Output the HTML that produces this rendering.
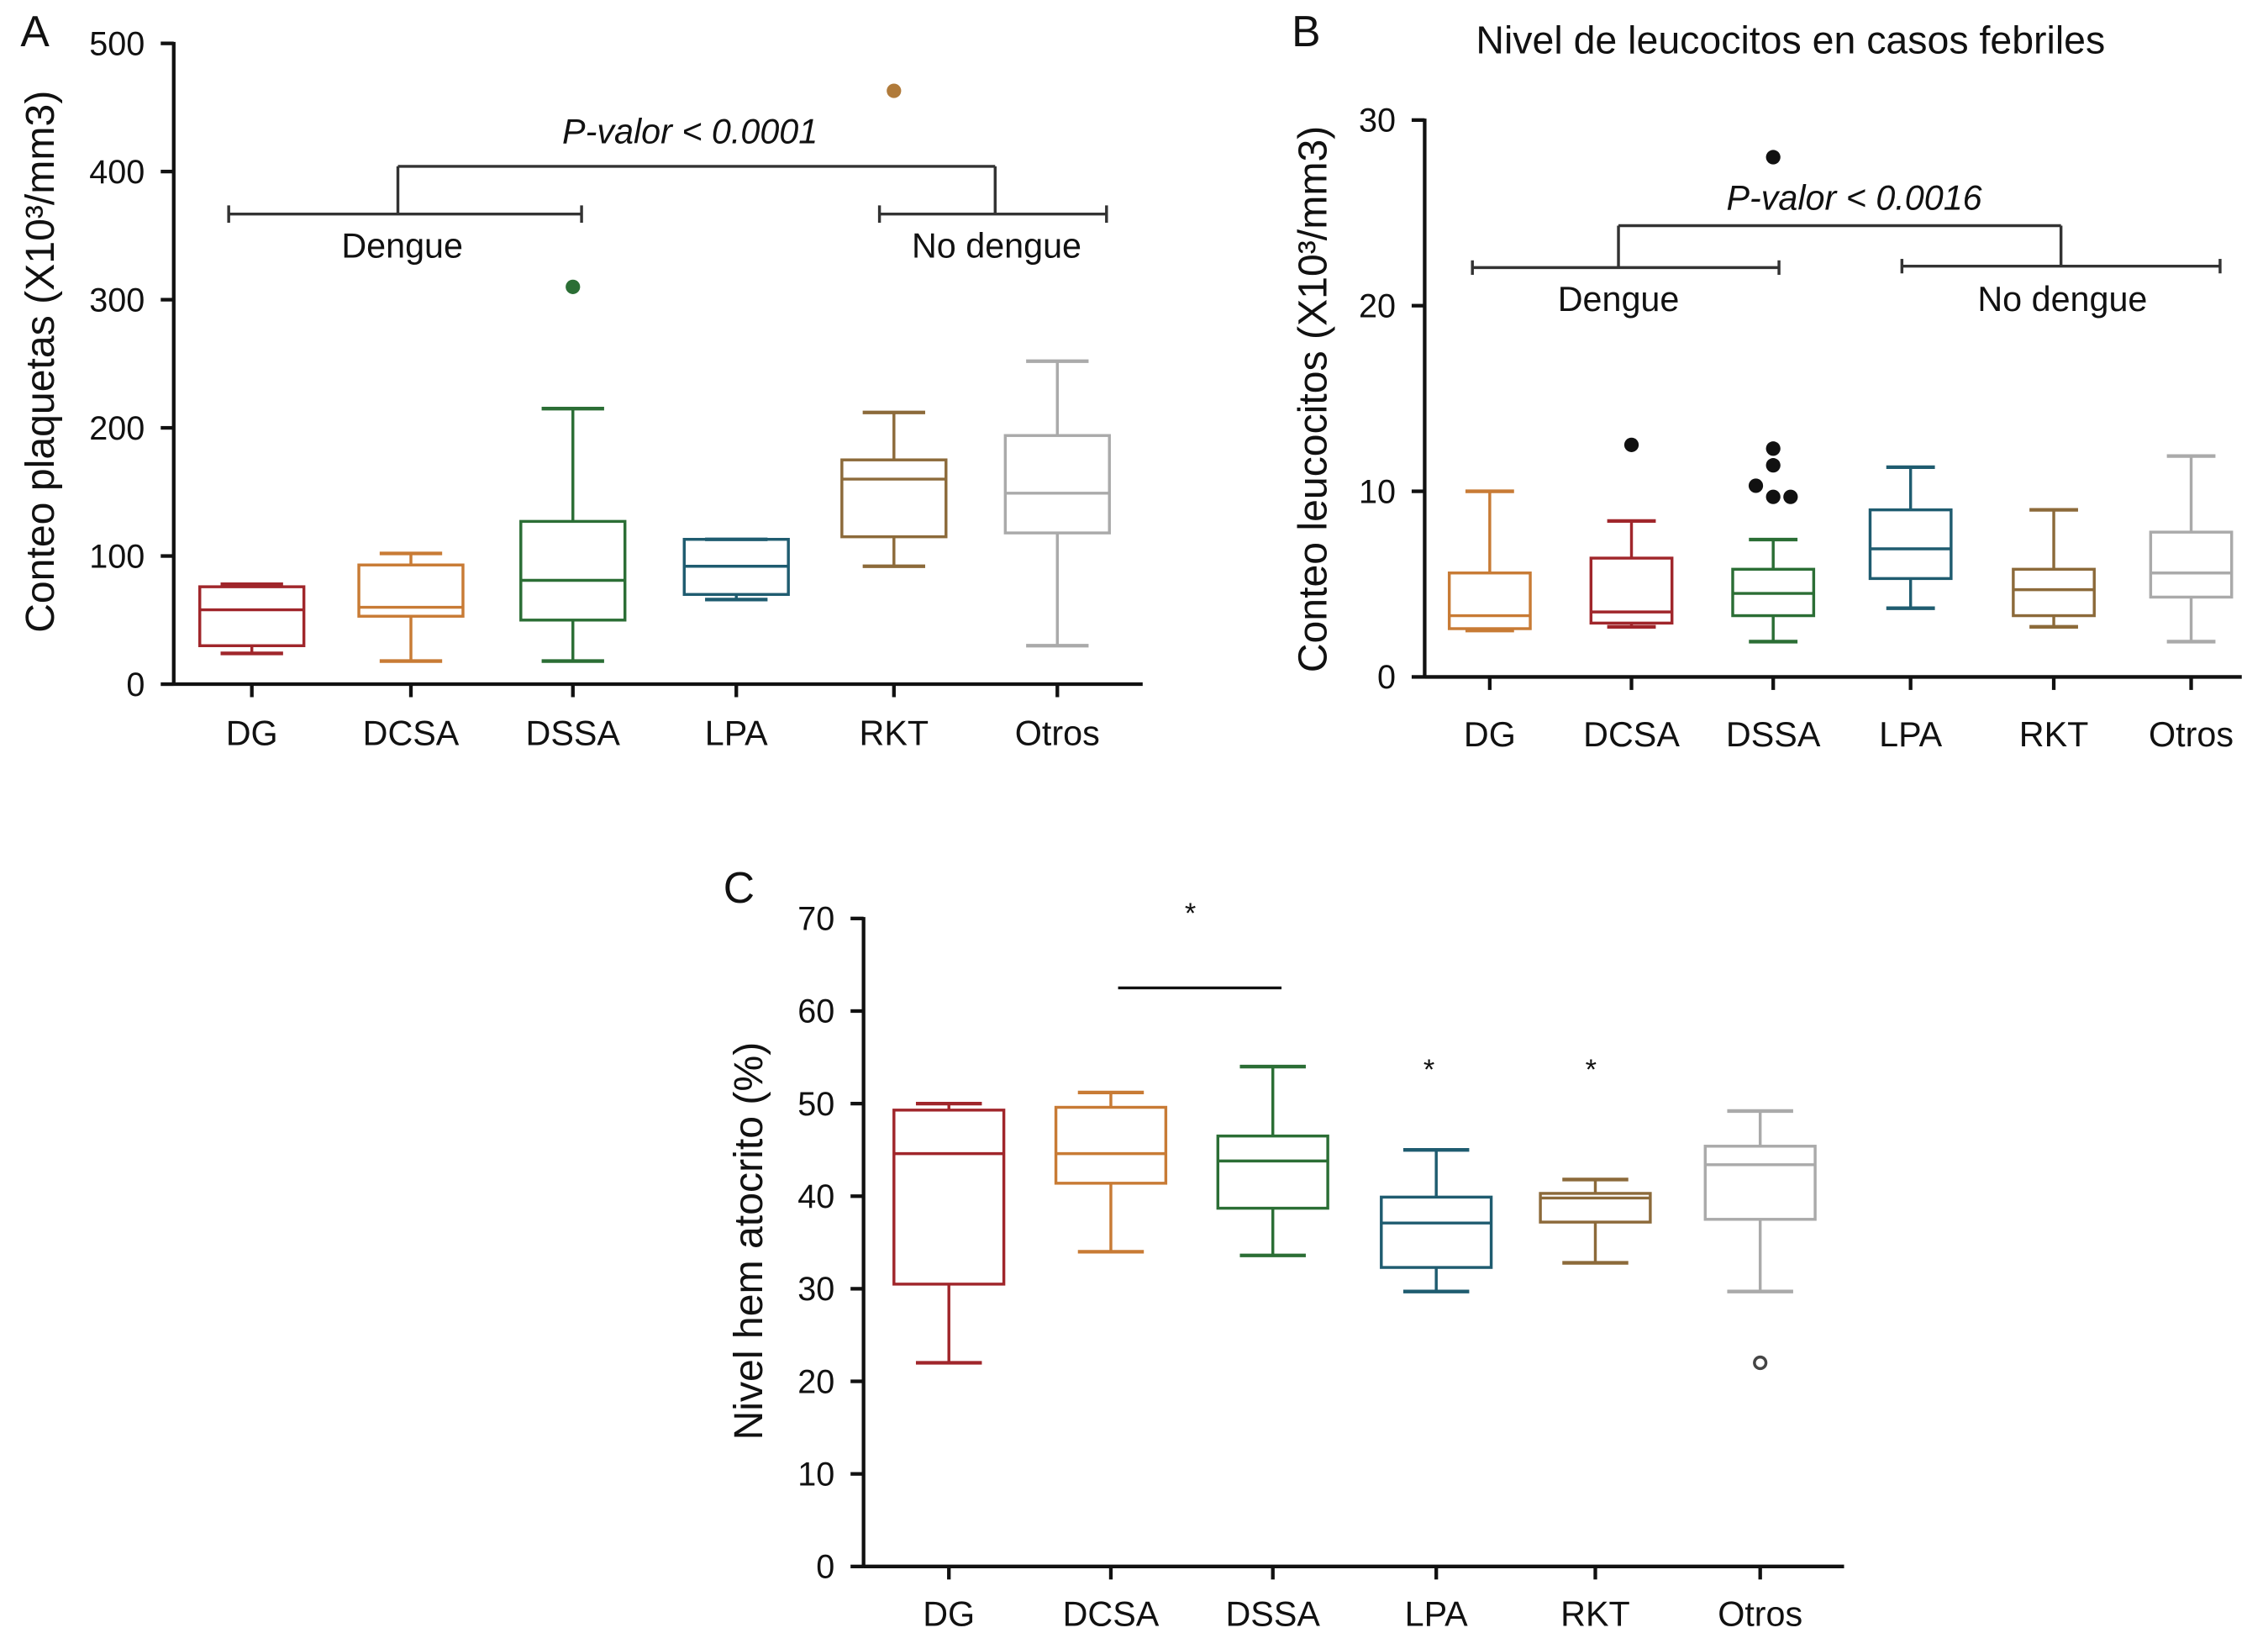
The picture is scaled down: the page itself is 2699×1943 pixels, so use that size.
<!DOCTYPE html>
<html><head><meta charset="utf-8"><style>
html,body{margin:0;padding:0;background:#fff;}
svg{display:block;font-family:"Liberation Sans",Arial,sans-serif;}
</style></head><body>
<svg id="fig" width="2699" height="1943" viewBox="0 0 1568 1129" xmlns="http://www.w3.org/2000/svg"></svg>
<script>
const catsA=["DG","DCSA","DSSA","LPA","RKT","Otros"];
const colorsA=["#a0262b","#c87b35","#2b6e35","#1f5c70","#8c6a3a","#aaaaaa"];
const lowA=[24,18,18,66,92,30], q1A=[30,53,50,70,115,118], medA=[58,60,81,92,160,149], q3A=[76,93,127,113,175,194], highA=[78,102,215,113,212,252];
const outA=[[2,310,"#2b6e35"],[4,463,"#b07a3a"]];
const ticksA=[0,100,200,300,400,500];

const catsB=["DG","DCSA","DSSA","LPA","RKT","Otros"];
const colorsB=["#c87b35","#a0262b","#2b6e35","#1f5c70","#8c6a3a","#aaaaaa"];
const lowB=[2.5,2.7,1.9,3.7,2.7,1.9], q1B=[2.6,2.9,3.3,5.3,3.3,4.3], medB=[3.3,3.5,4.5,6.9,4.7,5.6], q3B=[5.6,6.4,5.8,9.0,5.8,7.8], highB=[10,8.4,7.4,11.3,9.0,11.9];
const outB=[[1,12.5,0],[2,12.3,0],[2,11.4,0],[2,10.3,-12],[2,9.7,0],[2,9.7,12],[2,28,0]];
const ticksB=[0,10,20,30];

const catsC=["DG","DCSA","DSSA","LPA","RKT","Otros"];
const colorsC=["#a0262b","#c87b35","#2b6e35","#1f5c70","#8c6a3a","#aaaaaa"];
const lowC=[22,34,33.6,29.7,32.8,29.7], q1C=[30.5,41.4,38.7,32.3,37.2,37.5], medC=[44.6,44.6,43.8,37.1,39.8,43.4], q3C=[49.3,49.6,46.5,39.9,40.3,45.4], highC=[50,51.2,54,45,41.8,49.2];
const outC=[[5,22]];
const ticksC=[0,10,20,30,40,50,60,70];

const svg=document.getElementById('fig');
const NS="http://www.w3.org/2000/svg";
function el(tag,attrs,text){const e=document.createElementNS(NS,tag);for(const k in attrs)e.setAttribute(k,attrs[k]);if(text!==undefined)e.textContent=text;svg.appendChild(e);return e;}
function line(x1,y1,x2,y2,c,w,name){const e=el('line',{x1,y1,x2,y2,stroke:c,'stroke-width':w||2});

return e;}
function txt(x,y,s,size,anchor,name,extra){const e=el('text',Object.assign({x,y,'font-size':size,'text-anchor':anchor||'middle',fill:'#111'},extra||{}),s);

return e;}

function panel(p){
  const y=v=>p.y0+(v-p.vmin)/(p.vmax-p.vmin)*(p.y1-p.y0);
  const x=i=>p.xs[i];
  line(p.ax,p.y1-1,p.ax,p.y0+1,'#111',2.5,p.id+'-y-axis');
  line(p.ax,p.y0,p.axEnd,p.y0,'#111',2.5,p.id+'-x-axis');
  p.ticks.forEach(t=>{line(p.ax-9,y(t),p.ax,y(t),'#111',2.5,p.id+'-y-tick');
    txt(p.ax-20,y(t)+8,String(t),23,'end',p.id+'-y-tick-label');});
  p.cats.forEach((c,i)=>{line(x(i),p.y0,x(i),p.y0+9,'#111',2.5,p.id+'-x-tick');
    txt(x(i),p.y0+p.lblOff,c,24,'middle',p.id+'-x-tick-label');});
  p.cats.forEach((c,i)=>{
    const col=p.colors[i],hw=p.bw/2,cw=p.bw*0.3;
    line(x(i),y(p.high[i]),x(i),y(p.q3[i]),col,2,p.id+'-whisker-high-'+c);
    line(x(i),y(p.low[i]),x(i),y(p.q1[i]),col,2,p.id+'-whisker-low-'+c);
    line(x(i)-cw,y(p.high[i]),x(i)+cw,y(p.high[i]),col,2.5,p.id+'-cap-high-'+c);
    line(x(i)-cw,y(p.low[i]),x(i)+cw,y(p.low[i]),col,2.5,p.id+'-cap-low-'+c);
    const r=el('rect',{x:x(i)-hw,y:y(p.q3[i]),width:p.bw,height:y(p.q1[i])-y(p.q3[i]),fill:'none',stroke:col,'stroke-width':2});
    
    
    line(x(i)-hw,y(p.med[i]),x(i)+hw,y(p.med[i]),col,2,p.id+'-median-'+c);
  });
  return {x,y};
}

// Panel A
const A=panel({id:'a',cats:catsA,colors:colorsA,low:lowA,q1:q1A,med:medA,q3:q3A,high:highA,ticks:ticksA,
 vmin:0,vmax:500,y0:473,y1:30,ax:120,axEnd:790,xs:[174,284,396,509,618,731],bw:72,lblOff:42});
outA.forEach(o=>{const c=el('circle',{cx:A.x(o[0]),cy:A.y(o[1]),r:5,fill:o[2]});

});
txt(14,32,'A',30,'start','panel-a-label');
txt(37,250,'Conteo plaquetas (X10³/mm3)',28,'middle','a-y-axis-title',{transform:'rotate(-90 37 250)'});
[[158,148,402,148],[275,148,275,115],[275,115,688,115],[688,115,688,148],[608,148,765,148],[158,142,158,154],[402,142,402,154],[608,142,608,154],[765,142,765,154]].forEach(l=>line(l[0],l[1],l[2],l[3],'#333',2,'a-significance-bracket'));
txt(278,178,'Dengue',24,'middle','a-dengue-label');
txt(689,178,'No dengue',24,'middle','a-no-dengue-label');
txt(477,99,'P-valor < 0.0001',24,'middle','a-p-value',{'font-style':'italic'});

// Panel B
const B=panel({id:'b',cats:catsB,colors:colorsB,low:lowB,q1:q1B,med:medB,q3:q3B,high:highB,ticks:ticksB,
 vmin:0,vmax:30,y0:468,y1:83,ax:985,axEnd:1550,xs:[1030,1128,1226,1321,1420,1515],bw:56,lblOff:48});
outB.forEach(o=>{const c=el('circle',{cx:B.x(o[0])+o[2],cy:B.y(o[1]),r:5,fill:'#111'});

});
txt(893,32,'B',30,'start','panel-b-label');
txt(1238,37,'Nivel de leucocitos en casos febriles',27,'middle','b-chart-title');
txt(917,276,'Conteo leucocitos (X10³/mm3)',28,'middle','b-y-axis-title',{transform:'rotate(-90 917 276)'});
[[1018,185,1230,185],[1119,185,1119,156],[1119,156,1425,156],[1425,156,1425,184],[1315,184,1535,184],[1018,180,1018,190],[1230,180,1230,190],[1315,179,1315,189],[1535,179,1535,189]].forEach(l=>line(l[0],l[1],l[2],l[3],'#333',2,'b-significance-bracket'));
txt(1119,215,'Dengue',24,'middle','b-dengue-label');
txt(1426,215,'No dengue',24,'middle','b-no-dengue-label');
txt(1282,145,'P-valor < 0.0016',24,'middle','b-p-value',{'font-style':'italic'});

// Panel C
const C=panel({id:'c',cats:catsC,colors:colorsC,low:lowC,q1:q1C,med:medC,q3:q3C,high:highC,ticks:ticksC,
 vmin:0,vmax:70,y0:1083,y1:635,ax:597,axEnd:1275,xs:[656,768,880,993,1103,1217],bw:76,lblOff:41});
outC.forEach(o=>{const c=el('circle',{cx:C.x(o[0]),cy:C.y(o[1]),r:4,fill:'none',stroke:'#444','stroke-width':2});

});
txt(500,624,'C',30,'start','panel-c-label');
txt(527,858,'Nivel hem atocrito (%)',28,'middle','c-y-axis-title',{transform:'rotate(-90 527 858)'});
line(773,683,886,683,'#111',2,'c-significance-line');
txt(823,638,'*',20,'middle','c-significance-star');
txt(988,746,'*',20,'middle','c-lpa-star');
txt(1100,746,'*',20,'middle','c-rkt-star');
</script>
</body></html>
